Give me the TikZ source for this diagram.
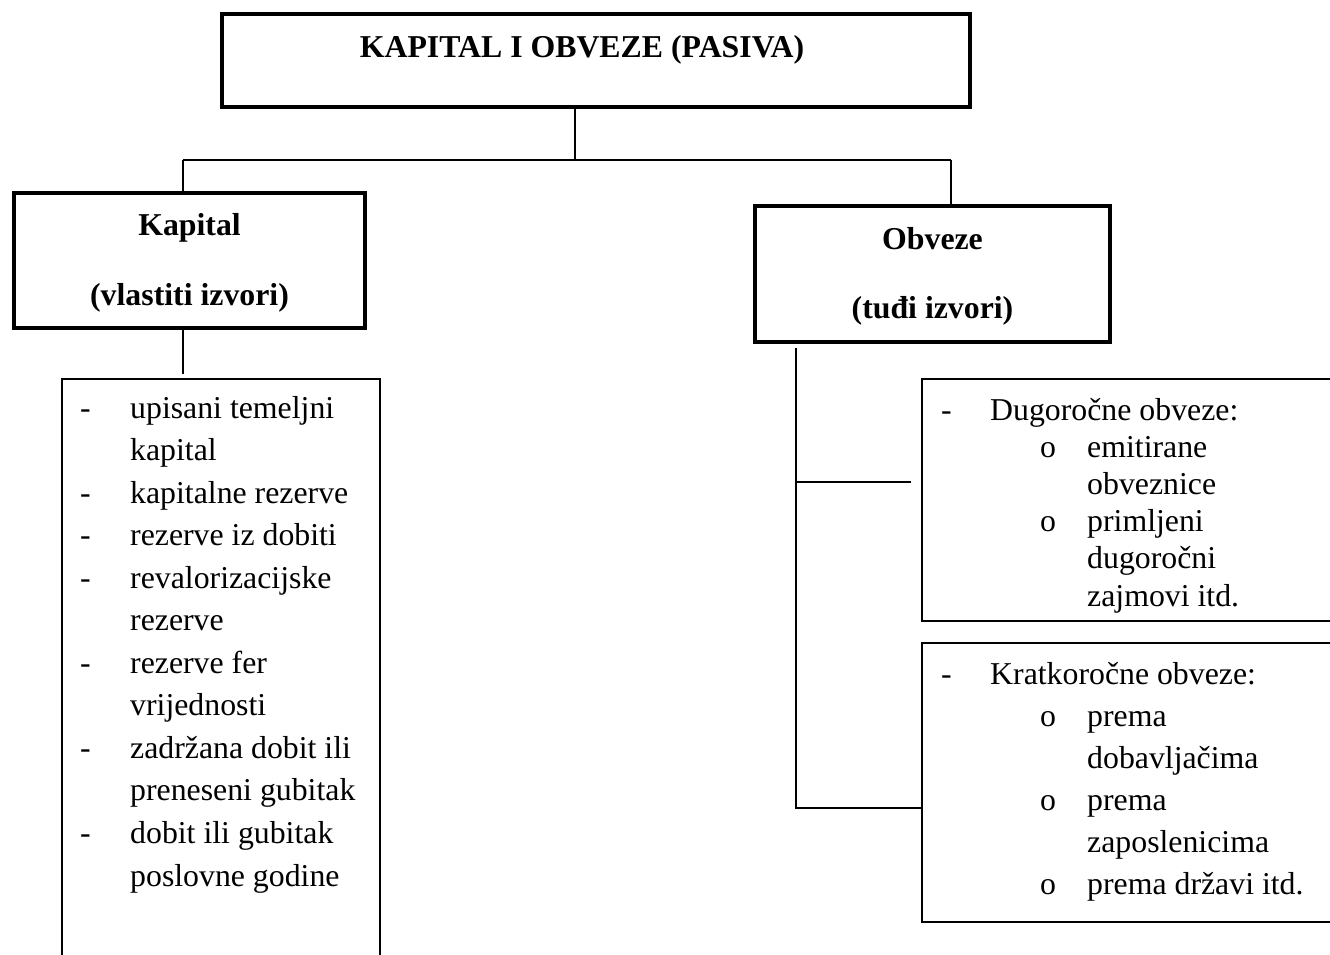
\documentclass[tikz,border=0pt]{standalone}
\usepackage{fontspec}
\setmainfont{Liberation Serif}
\begin{document}
\begin{tikzpicture}[x=1pt,y=-1pt,
  thickbox/.style={draw=black, line width=4.2pt, rectangle, inner sep=0pt},
  thinbox/.style={draw=black, line width=1.3pt, rectangle, inner sep=0pt},
  conn/.style={draw=black, line width=1.4pt},
  txt/.style={inner sep=0pt, anchor=base west, font=\fontsize{31.8}{38}\selectfont},
  btxt/.style={inner sep=0pt, anchor=base, font=\fontsize{31.8}{38}\selectfont\bfseries},
  bul/.style={inner sep=0pt, anchor=base, font=\fontsize{31.8}{38}\selectfont}]
\useasboundingbox (0,0) rectangle (1330,954);

% boxes
\node[thickbox, minimum width=748pt, minimum height=93pt] (top) at (596,60.5) {};
\node[thickbox, minimum width=351pt, minimum height=135pt] (kap) at (189.5,260.5) {};
\node[thickbox, minimum width=355pt, minimum height=136pt] (obv) at (932.5,274) {};
\node[thinbox, minimum width=318pt, minimum height=600pt] (lst) at (221,679) {};
\node[thinbox, minimum width=430pt, minimum height=242pt] (dug) at (1137,500) {};
\node[thinbox, minimum width=430pt, minimum height=279pt] (kra) at (1137,782.5) {};

% headings
\node[btxt] (ttl) at (582,57) {KAPITAL I OBVEZE (PASIVA)};
\node[btxt] (kap1) at (189.5,235) {Kapital};
\node[btxt] (kap2) at (189.5,305) {(vlastiti izvori)};
\node[btxt] (obv1) at (932.5,249) {Obveze};
\node[btxt] (obv2) at (932.5,318) {(tuđi izvori)};

% left list
\node[txt] (ld1) at (80,418) {-};
\node[txt] (lt1) at (130,418) {upisani temeljni};
\node[txt] (lt2) at (130,460.55) {kapital};
\node[txt] (ld3) at (80,503.1) {-};
\node[txt] (lt3) at (130,503.1) {kapitalne rezerve};
\node[txt] (ld4) at (80,545.65) {-};
\node[txt] (lt4) at (130,545.65) {rezerve iz dobiti};
\node[txt] (ld5) at (80,588.2) {-};
\node[txt] (lt5) at (130,588.2) {revalorizacijske};
\node[txt] (lt6) at (130,630.75) {rezerve};
\node[txt] (ld7) at (80,673.3) {-};
\node[txt] (lt7) at (130,673.3) {rezerve fer};
\node[txt] (lt8) at (130,715.85) {vrijednosti};
\node[txt] (ld9) at (80,758.4) {-};
\node[txt] (lt9) at (130,758.4) {zadržana dobit ili};
\node[txt] (lt10) at (130,800.95) {preneseni gubitak};
\node[txt] (ld11) at (80,843.5) {-};
\node[txt] (lt11) at (130,843.5) {dobit ili gubitak};
\node[txt] (lt12) at (130,886.05) {poslovne godine};

% long-term list
\node[txt] (dd1) at (941,420) {-};
\node[txt] (dt1) at (990,420) {Dugoročne obveze:};
\node[bul] (db2) at (1048,457.2) {o};
\node[txt] (dt2) at (1087,457.2) {emitirane};
\node[txt] (dt3) at (1087,494.4) {obveznice};
\node[bul] (db4) at (1048,531.6) {o};
\node[txt] (dt4) at (1087,531.6) {primljeni};
\node[txt] (dt5) at (1087,568.8) {dugoročni};
\node[txt] (dt6) at (1087,606) {zajmovi itd.};

% short-term list
\node[txt] (kd1) at (941,684) {-};
\node[txt] (kt1) at (990,684) {Kratkoročne obveze:};
\node[bul] (kb2) at (1048,726) {o};
\node[txt] (kt2) at (1087,726) {prema};
\node[txt] (kt3) at (1087,768) {dobavljačima};
\node[bul] (kb4) at (1048,810) {o};
\node[txt] (kt4) at (1087,810) {prema};
\node[txt] (kt5) at (1087,852) {zaposlenicima};
\node[bul] (kb6) at (1048,894) {o};
\node[txt] (kt6) at (1087,894) {prema državi itd.};

% connectors
\coordinate (hub) at (575,160);
\coordinate (hl) at (183,160);
\coordinate (hr) at (951,160);
\draw[conn] (top.south -| hub) -- (hub);
\draw[conn] (hl) -- (hr);
\draw[conn] (hl) -- (kap.north -| hl);
\draw[conn] (hr) -- (obv.north -| hr);
\draw[conn] (kap.south -| hl) -- ([yshift=4pt]lst.north -| hl);
\coordinate (rtop) at (796,348);
\coordinate (rmid) at (796,482);
\coordinate (rbot) at (796,808);
\draw[conn] (rtop) -- (rbot) -- (kra.west |- rbot);
\draw[conn] (rmid) -- ([xshift=-10pt]dug.west |- rmid);
\end{tikzpicture}
\end{document}
